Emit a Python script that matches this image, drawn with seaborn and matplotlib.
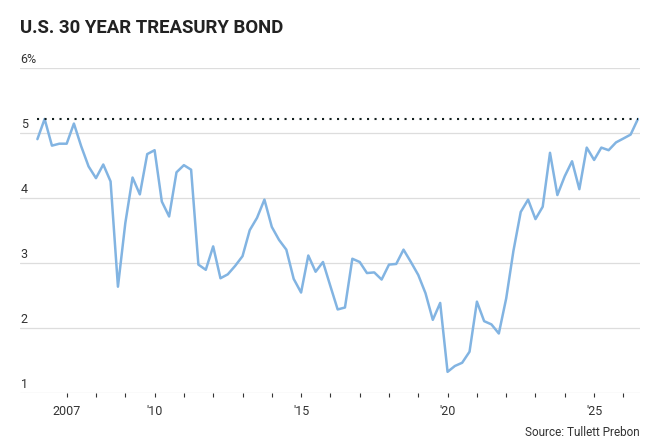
import numpy as np
import pandas as pd
import matplotlib
matplotlib.use("Agg")
import matplotlib.pyplot as plt
import seaborn as sns

# ---- data (quarterly, 2006 Q1 .. 2026 Q3) ----
start_date = "2006-01-01"
yields = [
    4.91, 5.22, 4.81, 4.84, 4.84, 5.15, 4.80, 4.49, 4.31, 4.52,
    4.26, 2.64, 3.62, 4.32, 4.06, 4.68, 4.74, 3.95, 3.72, 4.40,
    4.51, 4.44, 2.98, 2.90, 3.26, 2.77, 2.83, 2.96, 3.11, 3.51,
    3.70, 3.98, 3.56, 3.36, 3.21, 2.76, 2.55, 3.12, 2.87, 3.02,
    2.65, 2.29, 2.32, 3.07, 3.02, 2.85, 2.86, 2.75, 2.98, 2.99,
    3.21, 3.02, 2.82, 2.54, 2.13, 2.39, 1.33, 1.42, 1.47, 1.64,
    2.41, 2.11, 2.06, 1.92, 2.46, 3.19, 3.79, 3.98, 3.68, 3.87,
    4.70, 4.05, 4.34, 4.57, 4.14, 4.78, 4.59, 4.78, 4.74, 4.86,
    4.92, 4.98, 5.22,
]
ref_level = 5.22
y_ticks = [1, 2, 3, 4, 5, 6]
y_tick_labels = ["1", "2", "3", "4", "5", "6%"]
tick_years = list(range(2007, 2027))
year_labels = {2007: "2007", 2010: "'10", 2015: "'15", 2020: "'20", 2025: "'25"}
title = "U.S. 30 YEAR TREASURY BOND"
source = "Source: Tullett Prebon"

dates = pd.date_range(start_date, periods=len(yields), freq="QS")
df = pd.DataFrame({"date": dates, "yield": yields})

sns.set_theme(style="white")
plt.rcParams["font.family"] = ["Roboto", "DejaVu Sans"]

W, H = 646, 447
fig = plt.figure(figsize=(W / 100, H / 100), dpi=100)
ax = fig.add_axes([20 / W, 1 - 393.3 / H, 620 / W, (393.3 - 68.3) / H])

text_col = "#333333"
line_col = "#82b4e2"

for yv in y_ticks:
    ax.axhline(yv, color="#dddddd", lw=0.9, zorder=1)

sns.lineplot(data=df, x="date", y="yield", ax=ax, color=line_col,
             linewidth=1.8, zorder=3)

ax.hlines(ref_level, dates[0], dates[-1], colors="#14201f",
          linestyles=(0, (1, 2.6)), lw=1.5, zorder=4)

ax.set_ylim(1, 6)
ax.set_xlim(pd.Timestamp("2005-05-29"), pd.Timestamp("2026-07-27"))

tick_dates = [pd.Timestamp(f"{y}-01-01") for y in tick_years]
ax.set_xticks(tick_dates)
ax.set_xticklabels([year_labels.get(y, "") for y in tick_years])
ax.tick_params(axis="x", direction="out", length=3, width=0.8,
               color=text_col, pad=5.5, labelsize=9, labelcolor=text_col,
               bottom=True)
ax.set_yticks([])
for yv, lab in zip(y_ticks, y_tick_labels):
    ax.annotate(lab, xy=(0, yv), xycoords=("axes fraction", "data"),
                xytext=(0.5, 3.6), textcoords="offset points",
                ha="left", va="baseline", fontsize=9, color=text_col)

for s in ax.spines.values():
    s.set_visible(False)
ax.set_xlabel("")
ax.set_ylabel("")

fig.text(20 / W, 1 - 33 / H, title, ha="left", va="baseline",
         fontsize=13.4, fontweight="bold", color="#222222")
fig.text(640 / W, 1 - 436 / H, source, ha="right", va="baseline",
         fontsize=8.5, color=text_col)

fig.savefig("out.png", dpi=100)
